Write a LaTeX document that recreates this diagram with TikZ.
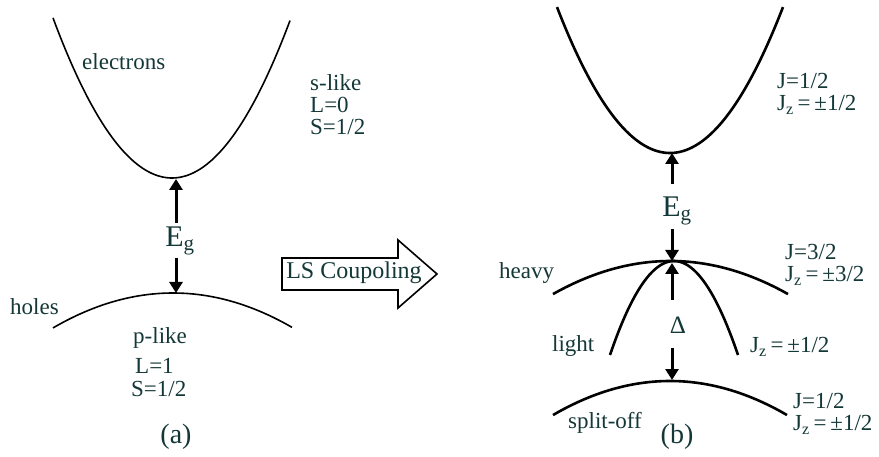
\documentclass[tikz,border=0pt]{standalone}
\usepackage{fontspec}
\setmainfont{Liberation Serif}
\usetikzlibrary{arrows.meta}
\definecolor{tc}{RGB}{20,55,55}
\tikzset{
  lbl/.style={font=\fontsize{23}{26}\selectfont, text=tc, inner sep=0pt, anchor=west},
  lbltwo/.style={font=\fontsize{23}{22}\selectfont, text=tc, inner sep=0pt, anchor=west, align=left},
  biglbl/.style={font=\fontsize{30}{33}\selectfont, text=tc, inner sep=0pt},
  thinband/.style={line width=1.6pt, black},
  thickband/.style={line width=2.6pt, black},
  gaparrow/.style={line width=3pt, -{Triangle[length=11pt,width=13pt]}},
}
\begin{document}
\begin{tikzpicture}[x=1pt,y=-1pt]
\useasboundingbox (0,0) rectangle (879,457);
% ---------- panel (a) ----------
\draw[thinband] plot[domain=53:290,samples=80,smooth] (\x,{178-0.0113*(\x-172)*(\x-172)});
\draw[thinband] plot[domain=53:292,samples=60,smooth] (\x,{293+0.00243*(\x-173)*(\x-173)});
\coordinate (cba) at (176,179);
\coordinate (vba) at (176,293);
\node[biglbl] (ega) at (180,241) {E\textsubscript{g}};
\coordinate (ega-up) at (176,223);
\coordinate (ega-dn) at (176,258);
\draw[gaparrow] (ega-up) -- (cba);
\draw[gaparrow] (ega-dn) -- (vba);
\node[lbl] (electrons) at (82,62) {electrons};
\node[lbltwo] (sinfo) at (310,105) {s-like\\L=0\\S=1/2};
\node[lbl] (holes) at (10,307) {holes};
\node[lbl] (plike) at (133,338) {p-like};
\node[lbl] (L1) at (135,366) {L=1};
\node[lbl] (S1) at (131,389) {S=1/2};
\node[biglbl,font=\fontsize{28}{31}\selectfont] (a) at (176,437) {(a)};
% ---------- LS arrow ----------
\draw[line width=1.6pt, fill=white] (282,258) -- (398,258) -- (398,240) -- (437,274) -- (398,308) -- (398,290) -- (282,290) -- cycle;
\node[font=\fontsize{24}{27}\selectfont, text=tc, inner sep=0pt] (ls) at (354,273) {LS Coupoling};
% ---------- panel (b) ----------
\draw[thickband] plot[domain=557:783,samples=80,smooth] (\x,{153-0.01143*(\x-670)*(\x-670)});
\draw[thickband] plot[domain=553:788,samples=60,smooth] (\x,{261+0.00239*(\x-670.5)*(\x-670.5)});
\draw[thickband] plot[domain=610:738,samples=60,smooth] (\x,{261+0.02295*(\x-674)*(\x-674)});
\draw[thickband] plot[domain=553:787,samples=60,smooth] (\x,{381+0.00248*(\x-670)*(\x-670)});
\coordinate (cbb) at (672,153);
\coordinate (hh) at (672,261);
\coordinate (hh2) at (672,263);
\coordinate (so) at (672,380);
\node[biglbl] (egb) at (677,211) {E\textsubscript{g}};
\coordinate (egb-up) at (672,184);
\coordinate (egb-dn) at (672,229);
\draw[gaparrow] (egb-up) -- (cbb);
\draw[gaparrow] (egb-dn) -- (hh);
\node[biglbl,font=\fontsize{25}{28}\selectfont] (delta) at (678,325) {Δ};
\coordinate (d-up) at (672,300);
\coordinate (d-dn) at (672,348);
\draw[gaparrow] (d-up) -- (hh2);
\draw[gaparrow] (d-dn) -- (so);
\node[lbltwo] (Jc) at (777,94) {J=1/2\\J\textsubscript{z}\,=\,±1/2};
\node[lbl] (heavy) at (499,273) {heavy};
\node[lbltwo] (J32) at (785,265) {J=3/2\\J\textsubscript{z}\,=\,±3/2};
\node[lbl] (light) at (552,346) {light};
\node[lbl] (Jzl) at (750,347) {J\textsubscript{z}\,=\,±1/2};
\node[lbl] (split) at (568,423) {split-off};
\node[lbltwo] (Jso) at (793,414) {J=1/2\\J\textsubscript{z}\,=\,±1/2};
\node[biglbl,font=\fontsize{28}{31}\selectfont] (b) at (677,437) {(b)};
\end{tikzpicture}
\end{document}
